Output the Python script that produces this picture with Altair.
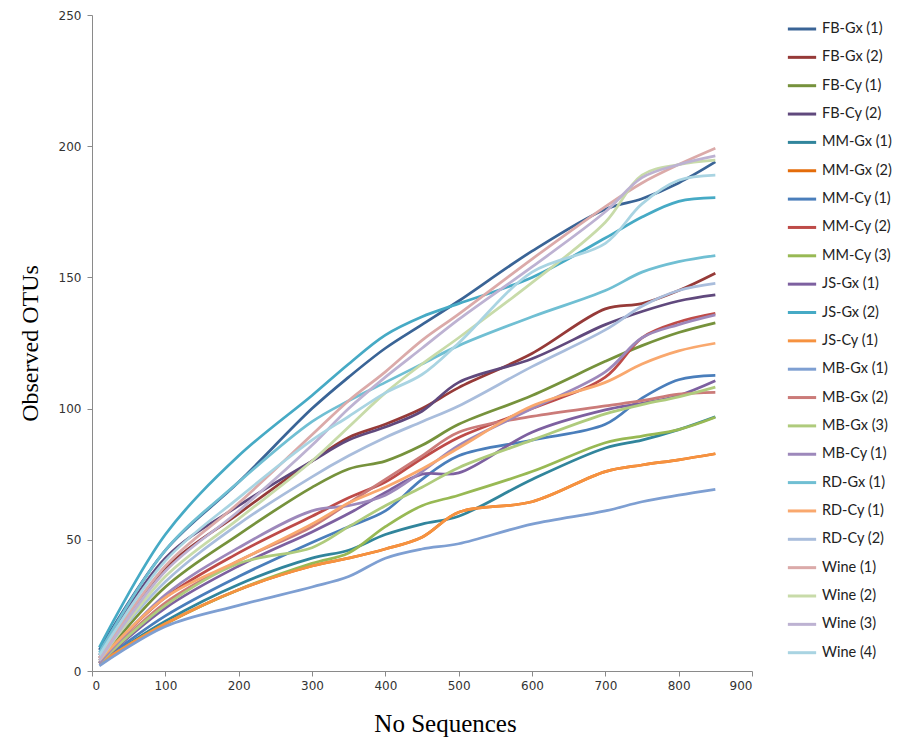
import altair as alt
import pandas as pd

X = [10, 100, 200, 300, 350, 400, 450, 500, 600, 700, 750, 800, 850]

series_names = [
    "FB-Gx (1)", "FB-Gx (2)", "FB-Cy (1)", "FB-Cy (2)", "MM-Gx (1)", "MM-Gx (2)",
    "MM-Cy (1)", "MM-Cy (2)", "MM-Cy (3)", "JS-Gx (1)", "JS-Gx (2)", "JS-Cy (1)",
    "MB-Gx (1)", "MB-Gx (2)", "MB-Gx (3)", "MB-Cy (1)", "RD-Gx (1)", "RD-Cy (1)",
    "RD-Cy (2)", "Wine (1)", "Wine (2)", "Wine (3)", "Wine (4)",
]

fb_gx_1 = [8, 46, 72, 100, 112, 123, 132, 141, 160, 176, 180, 186, 194]
fb_gx_2 = [5, 39, 60, 80, 89, 94, 100, 108, 121, 138, 140, 145, 151.6]
fb_cy_1 = [4, 32, 52, 70, 77, 80, 86, 94, 105, 118, 124, 129, 132.7]
fb_cy_2 = [6, 43, 63, 80, 88, 93, 99, 110, 119, 132, 137, 141, 143.3]
mm_gx_1 = [3, 19, 33, 43, 46, 52, 56, 59, 73, 85, 88, 92, 96.9]
mm_gx_2 = [3, 18, 31, 40, 43, 46.5, 51, 60.5, 64.5, 76, 78.5, 80.5, 82.8]
mm_cy_1 = [3, 21, 36, 49, 55, 61, 73, 82, 88, 94, 104, 111, 112.7]
mm_cy_2 = [4, 28, 45, 59, 66, 72, 81, 89, 100, 112, 127, 133, 136.3]
mm_cy_3 = [3, 18, 31, 41, 45, 55, 63, 67, 76, 87, 89.5, 92, 96.7]
js_gx_1 = [3, 24, 40, 53, 60, 68, 75, 75.5, 91, 99.5, 102, 105, 110.6]
js_gx_2 = [9, 52, 82, 105, 117, 128, 135, 140, 150, 165, 173, 179, 180.4]
js_cy_1 = [3, 18, 31, 40, 43, 46.5, 51, 60.5, 64.5, 76, 78.5, 80.5, 82.8]
mb_gx_1 = [2, 17, 25, 32, 36, 43, 46.5, 48.5, 56, 61, 64.5, 67, 69.2]
mb_gx_2 = [3, 26, 42, 55, 64, 73, 82, 91, 97, 101, 103, 105.5, 106.2]
mb_gx_3 = [3, 25, 41, 47, 55, 63, 70, 77.5, 88, 98, 101.5, 104.5, 108.2]
mb_cy_1 = [3, 29, 47, 61, 63, 67, 76, 86, 100, 114, 127, 132, 135.7]
rd_gx_1 = [7, 46, 72, 95, 103, 110, 117, 124, 135, 145, 152, 156, 158.3]
rd_cy_1 = [4, 28, 42, 56, 64, 70, 77, 85, 101, 110, 117, 122, 124.9]
rd_cy_2 = [5, 34, 56, 74, 82, 89, 95, 101, 116, 130, 139, 145, 147.7]
wine_1 = [5, 40, 64, 90, 103, 114, 126, 136, 157, 177, 186, 193, 199.2]
wine_2 = [4, 36, 58, 80, 93, 106, 117, 127, 148, 171, 189, 193, 194.7]
wine_3 = [4, 38, 61, 86, 100, 112, 123, 134, 154, 175, 188, 193, 196.3]
wine_4 = [6, 42, 66, 88, 97, 106, 113, 125, 152, 163, 178, 187, 189]

series_values = [
    fb_gx_1, fb_gx_2, fb_cy_1, fb_cy_2, mm_gx_1, mm_gx_2, mm_cy_1, mm_cy_2, mm_cy_3,
    js_gx_1, js_gx_2, js_cy_1, mb_gx_1, mb_gx_2, mb_gx_3, mb_cy_1, rd_gx_1, rd_cy_1,
    rd_cy_2, wine_1, wine_2, wine_3, wine_4,
]

colors = [
    "#3A6496", "#963A38", "#76923C", "#60497D", "#31859C", "#E46C0A",
    "#4A7EBB", "#BE4B48", "#98B954", "#7D60A0", "#46AAC5", "#F69240",
    "#7E9FD2", "#CB7B79", "#AFCB7C", "#9D88BB", "#70BFD3", "#F9A86E",
    "#A9BDDC", "#DBAAA9", "#C8DBA9", "#BDB2D2", "#A9D4E2",
]

x_ticks = [0, 100, 200, 300, 400, 500, 600, 700, 800, 900]
y_ticks = [0, 50, 100, 150, 200, 250]

rows = []
for i, (name, vals) in enumerate(zip(series_names, series_values)):
    for xv, yv in zip(X, vals):
        rows.append({"series": name, "order": i, "seq": xv, "otus": yv})
df = pd.DataFrame(rows)

chart = alt.Chart(df).mark_line(interpolate="catmull-rom", strokeWidth=2.75).encode(
    x=alt.X("seq:Q", scale=alt.Scale(domain=[0, 900], nice=False),
            axis=alt.Axis(values=x_ticks, title="No Sequences", grid=False,
                          labelFont="DejaVu Sans", labelFontSize=12, labelColor="#333333",
                          domainColor="#8A8A8A", tickColor="#8A8A8A", tickSize=5,
                          labelPadding=4, titleFont="Liberation Serif", titleFontSize=25,
                          titleFontWeight="normal", titleColor="#000000",
                          titleX=353, titleY=60, titleBaseline="alphabetic")),
    y=alt.Y("otus:Q", scale=alt.Scale(domain=[0, 250], nice=False),
            axis=alt.Axis(values=y_ticks, title="Observed OTUs", grid=False,
                          labelFont="DejaVu Sans", labelFontSize=12, labelColor="#333333",
                          domainColor="#8A8A8A", tickColor="#8A8A8A", tickSize=5,
                          labelPadding=6, titleFont="Liberation Serif", titleFontSize=24,
                          titleFontWeight="normal", titleColor="#000000",
                          titleAngle=-90, titleX=-55, titleY=328,
                          titleBaseline="alphabetic", titleAlign="center")),
    color=alt.Color("series:N", scale=alt.Scale(domain=series_names, range=colors),
                    sort=series_names,
                    legend=alt.Legend(title=None, orient="none", legendX=694, legendY=-2,
                                      symbolType="stroke", symbolSize=800,
                                      symbolStrokeWidth=3, rowPadding=5.35,
                                      labelFont="Lato", labelFontSize=14.5,
                                      labelColor="#222222", labelOffset=4)),
    order=alt.Order("order:Q"),
    detail="series:N",
).properties(
    width=660, height=656,
    autosize=alt.AutoSizeParams(type="none"),
    padding={"left": 92, "top": 15, "right": 146, "bottom": 71},
).configure_view(stroke=None)

chart.save("out.html", embed_options={"renderer": "svg", "actions": False})
